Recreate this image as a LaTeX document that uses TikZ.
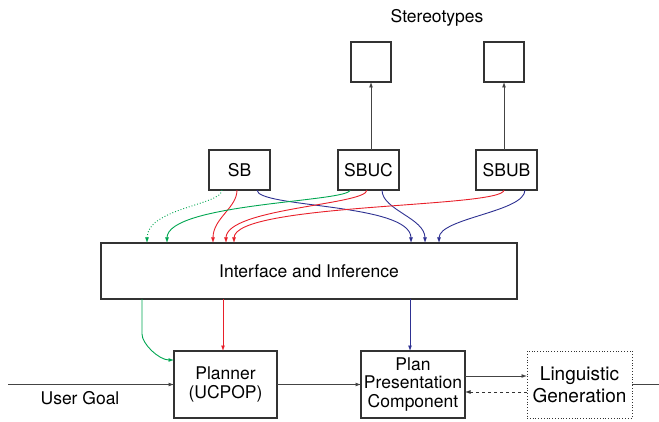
\documentclass[tikz,border=0pt]{standalone}
\usepackage{fontspec}
\setmainfont{TeX Gyre Heros}
\usetikzlibrary{arrows.meta}
\definecolor{cred}{HTML}{E8202A}
\definecolor{cgreen}{HTML}{00A651}
\definecolor{cblue}{HTML}{2E3192}
\definecolor{cbox}{HTML}{333333}
\definecolor{cline}{HTML}{444444}
\tikzset{
  box/.style={draw=cbox, line width=1.2pt, fill=white, inner sep=0pt, outer sep=0pt, align=center,
    font=\fontsize{17.5}{18.5}\selectfont},
  conn/.style={line width=0.9pt, -{Latex[length=5.5pt,width=4pt]}},
  lbl/.style={font=\fontsize{17.5}{18.5}\selectfont, inner sep=0pt}
}
\begin{document}
\begin{tikzpicture}[x=1pt,y=-1pt]
\useasboundingbox (0,0) rectangle (659,422);
% stereotypes
\node[lbl] (stl) at (437,18) {Stereotypes};
\node[box, minimum width=40pt, minimum height=40pt] (st1) at (371,62) {};
\node[box, minimum width=40pt, minimum height=40pt] (st2) at (504,62) {};
% user models
\node[box, minimum width=61pt, minimum height=40pt] (sb) at (239.5,170) {SB};
\node[box, minimum width=61pt, minimum height=40pt] (sbuc) at (368.5,170) {SBUC};
\node[box, minimum width=61pt, minimum height=40pt] (sbub) at (506.5,170) {SBUB};
% interface
\node[box, minimum width=416pt, minimum height=56pt] (iface) at (309,271) {Interface and Inference};
% bottom row
\node[box, minimum width=103pt, minimum height=67pt] (planner) at (225.5,384.5) {Planner\\(UCPOP)};
\node[box, minimum width=104pt, minimum height=67pt] (ppc) at (413,384.5) {Plan\\Presentation\\Component};
\node[box, draw=cbox, line width=0.8pt, dotted, minimum width=105pt, minimum height=67pt,
  font=\fontsize{19}{22}\selectfont] (lg) at (579.5,384.5) {Linguistic\\Generation};
\coordinate (ug) at (8,384.5);
\coordinate (out) at (659,384.5);
\node[lbl] (ugl) at (80,398) {User Goal};

% arrows to stereotypes
\draw[conn, cline] (sbuc.north -| st1.south) -- (st1.south);
\draw[conn, cline] (sbub.north -| st2.south) -- (st2.south);

% SB arrows
\draw[conn, cgreen, dotted] ([xshift=-17.5pt]sb.south) .. controls +(0,15) and +(0,-35) .. ([xshift=-162pt]iface.north);
\draw[conn, cred] ([xshift=-2.5pt]sb.south) .. controls +(0,18) and +(0,-25) .. ([xshift=-96pt]iface.north);
\draw[conn, cblue] ([xshift=17.5pt]sb.south) .. controls +(0,18) and +(0,-40) .. ([xshift=102pt]iface.north);
% SBUC arrows
\draw[conn, cgreen] ([xshift=-18.5pt]sbuc.south) .. controls +(0,12) and +(0,-40) .. ([xshift=-142pt]iface.north);
\draw[conn, cred] ([xshift=-1.5pt]sbuc.south) .. controls +(0,15) and +(0,-35) .. ([xshift=-83pt]iface.north);
\draw[conn, cblue] ([xshift=13.5pt]sbuc.south) .. controls +(0,20) and +(0,-25) .. ([xshift=116pt]iface.north);
% SBUB arrows
\draw[conn, cred] ([xshift=-2.5pt]sbub.south) .. controls +(0,18) and +(0,-40) .. ([xshift=-75pt]iface.north);
\draw[conn, cblue] ([xshift=18.5pt]sbub.south) .. controls +(0,22) and +(0,-25) .. ([xshift=130pt]iface.north);

% interface to bottom
\draw[conn, cgreen] ([xshift=-167pt]iface.south) -- ++(0,35) .. controls +(0,10) and +(-15,0) .. ([yshift=24.5pt]planner.west);
\draw[conn, cred] ([xshift=-86pt]iface.south) -- ([xshift=-86pt]iface.south |- planner.north);
\draw[conn, cblue] ([xshift=101pt]iface.south) -- ([xshift=101pt]iface.south |- ppc.north);

% bottom flow
\draw[conn, cline] (ug) -- (planner.west);
\draw[conn, cline] (planner.east) -- (ppc.west);
\draw[conn, cline] ([yshift=8.5pt]ppc.east) -- ([yshift=8.5pt]lg.west);
\draw[conn, cbox, dashed] ([yshift=-7.5pt]lg.west) -- ([yshift=-7.5pt]ppc.east);
\draw[line width=0.9pt, cline] (lg.east) -- (out);
\end{tikzpicture}
\end{document}
